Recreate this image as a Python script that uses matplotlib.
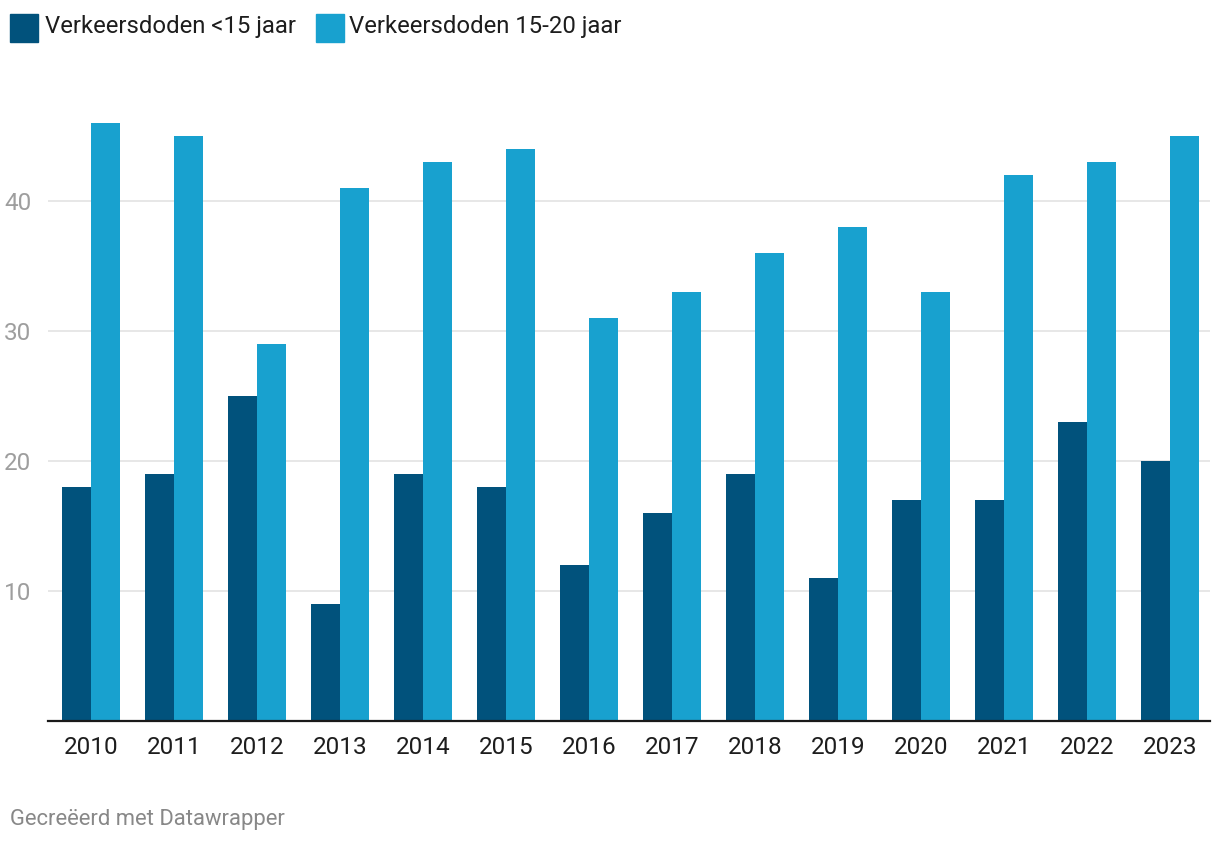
import matplotlib
matplotlib.use("Agg")
import matplotlib.pyplot as plt
from matplotlib.patches import Rectangle
import numpy as np

plt.rcParams['font.family'] = ['Roboto', 'DejaVu Sans']

years = ["2010", "2011", "2012", "2013", "2014", "2015", "2016",
         "2017", "2018", "2019", "2020", "2021", "2022", "2023"]
under15 = [18, 19, 25, 9, 19, 18, 12, 16, 19, 11, 17, 17, 23, 20]
age15_20 = [46, 45, 29, 41, 43, 44, 31, 33, 36, 38, 33, 42, 43, 45]
series_names = ["Verkeersdoden <15 jaar", "Verkeersdoden 15-20 jaar"]
colors = ["#01527c", "#18a1cf"]
yticks = [10, 20, 30, 40]

W, H = 1220, 844
fig = plt.figure(figsize=(W/100, H/100), dpi=100)
ax_left, ax_right, ax_bottom = 48, 1210, 721
ymax = 46.6
ppu = 13.0
ax_top = ax_bottom - ymax*ppu
ax = fig.add_axes([ax_left/W, 1-ax_bottom/H, (ax_right-ax_left)/W, (ax_bottom-ax_top)/H])

x = np.arange(len(years))
bw = 29/83
ax.bar(x - bw/2, under15, width=bw, color=colors[0], zorder=3)
ax.bar(x + bw/2, age15_20, width=bw, color=colors[1], zorder=3)

ax.set_xlim((48-91)/83, (1210-91)/83)
ax.set_ylim(0, ymax)
ax.set_yticks(yticks)
ax.set_yticklabels([str(t) for t in yticks])
ax.set_xticks(x)
ax.set_xticklabels(years)
for s in ["top", "right", "left"]:
    ax.spines[s].set_visible(False)
ax.spines["bottom"].set_color("#1a1a1a")
ax.spines["bottom"].set_linewidth(1.6)
ax.spines["bottom"].set_zorder(4)
ax.grid(axis="y", color="#e3e3e3", linewidth=1.2, zorder=0)
ax.tick_params(axis="y", length=0, pad=12, labelsize=17.5, labelcolor="#9e9e9e")
ax.tick_params(axis="x", length=0, pad=11, labelsize=17.5, labelcolor="#1d1d1d")

# legend
leg = [(10, 45, series_names[0], colors[0]), (316, 349, series_names[1], colors[1])]
for rx, tx, name, c in leg:
    fig.patches.append(Rectangle((rx/W, 1-42/H), 28/W, 28/H, transform=fig.transFigure,
                                 color=c, figure=fig))
    fig.text(tx/W, 1-27/H, name, fontsize=17.2, color="#1d1d1d", va="center", ha="left")

fig.text(10/W, 1-819/H, "Gecreëerd met Datawrapper", fontsize=15.8, color="#888888",
         va="center", ha="left")

fig.savefig("out.png", dpi=100)
